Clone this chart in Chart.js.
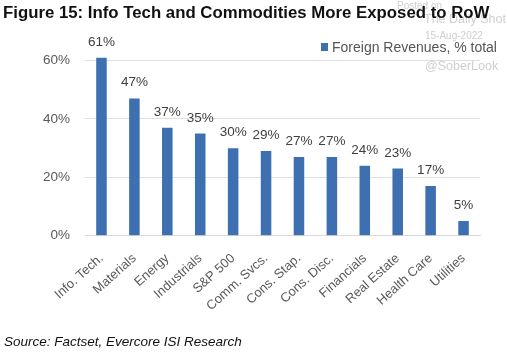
<!DOCTYPE html>
<html><head><meta charset="utf-8">
<script src="https://cdn.jsdelivr.net/npm/chart.js@4/dist/chart.umd.min.js"></script>
<style>
html,body{margin:0;padding:0;background:#fff;}
#wrap{position:relative;width:507px;height:357px;overflow:hidden;font-family:"Liberation Sans",Arial,sans-serif;}
#c{position:absolute;left:0;top:0;}
.t{position:absolute;white-space:nowrap;}
</style></head>
<body><div id="wrap">
<canvas id="c" width="507" height="357"></canvas>
<div class="t" style="left:397px;top:0px;font-size:10px;color:#cfcfcf;">Posted on</div>
<div class="t" style="left:424px;top:12px;font-size:12.5px;color:#cfcfcf;">The Daily Shot</div>
<div class="t" style="left:425px;top:30px;font-size:10px;color:#cfcfcf;">15-Aug-2022</div>
<div class="t" style="left:425px;top:59px;font-size:12.5px;color:#cfcfcf;">@SoberLook</div>
<div class="t" style="left:3px;top:3px;font-size:16.8px;font-weight:bold;color:#111;">Figure 15: Info Tech and Commodities More Exposed to RoW</div>
<div class="t" style="left:321px;top:43px;width:7px;height:8px;background:#3e6fb0;"></div>
<div class="t" style="left:332px;top:39px;font-size:14px;color:#555;">Foreign Revenues, % total</div>
<div class="t" style="left:4px;top:334px;font-size:13.5px;font-style:italic;color:#111;">Source: Factset, Evercore ISI Research</div>
</div>
<script>
const categories = ["Info. Tech.","Materials","Energy","Industrials","S&P 500","Comm. Svcs.","Cons. Stap.","Cons. Disc.","Financials","Real Estate","Health Care","Utilities"];
const foreignRevenues = [61,47,37,35,30,29,27,27,24,23,17,5];
const yTicks = [0,20,40,60];
const seriesName = "Foreign Revenues, % total";

const barLabels = {
  id:'barLabels',
  afterDatasetsDraw(chart){
    const ctx = chart.ctx;
    const meta = chart.getDatasetMeta(0);
    ctx.save();
    ctx.font = '13.5px "Liberation Sans", Arial, sans-serif';
    ctx.fillStyle = '#404040';
    ctx.textAlign = 'center';
    ctx.textBaseline = 'bottom';
    meta.data.forEach((el,i)=>{
      ctx.fillText(chart.data.datasets[0].data[i] + '%', el.x, el.y - 9);
    });
    ctx.restore();
  }
};

new Chart(document.getElementById('c'), {
  type:'bar',
  data:{labels:categories, datasets:[{label:seriesName, data:foreignRevenues, backgroundColor:'#3e6fb0', barPercentage:0.32, categoryPercentage:1}]},
  options:{
    responsive:false, animation:false,
    layout:{padding:{left:28,right:27,top:46,bottom:28}},
    plugins:{ legend:{display:false}, tooltip:{enabled:false} },
    scales:{
      x:{grid:{display:false, drawTicks:false}, border:{display:true,color:'#d9d9d9'},
        ticks:{maxRotation:42, minRotation:42, padding:15, color:'#595959', font:{family:'"Liberation Sans", Arial, sans-serif', size:13}}},
      y:{min:0, max:65, grid:{color:'#e0e0e0', drawTicks:false}, border:{display:false},
        afterBuildTicks(axis){ axis.ticks = yTicks.map(v=>({value:v})); },
        ticks:{padding:15, color:'#595959', font:{family:'"Liberation Sans", Arial, sans-serif', size:13.5}, callback:v=>v+'%'}}
    }
  },
  plugins:[barLabels]
});
</script>
</body></html>
